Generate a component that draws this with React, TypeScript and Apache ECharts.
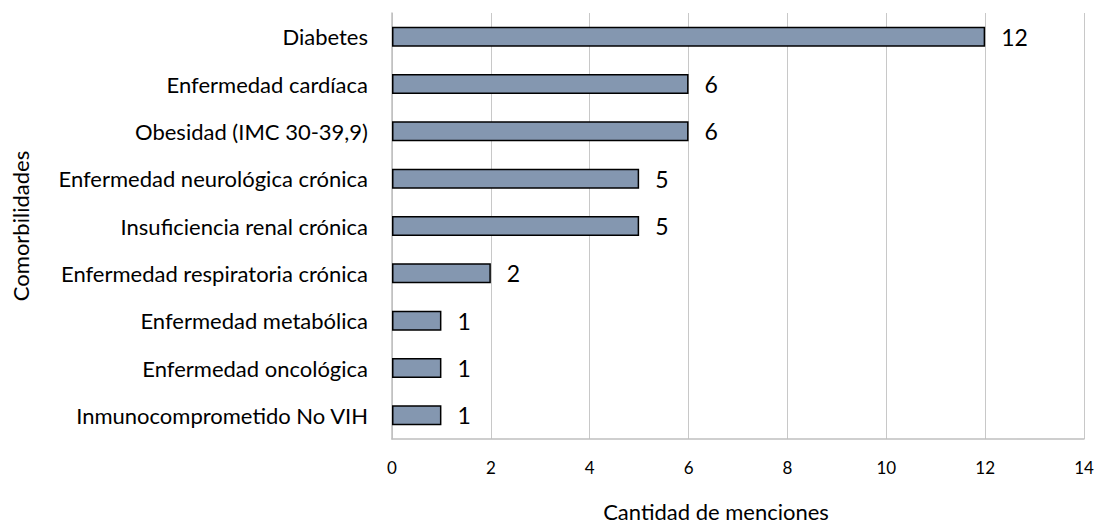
import React, { useEffect, useRef } from "react";
import * as echarts from "echarts";

const categories: string[] = [
  "Diabetes",
  "Enfermedad cardíaca",
  "Obesidad (IMC 30-39,9)",
  "Enfermedad neurológica crónica",
  "Insuficiencia renal crónica",
  "Enfermedad respiratoria crónica",
  "Enfermedad metabólica",
  "Enfermedad oncológica",
  "Inmunocomprometido No VIH",
];
const values: number[] = [12, 6, 6, 5, 5, 2, 1, 1, 1];
const xTitle = "Cantidad de menciones";
const yTitle = "Comorbilidades";

const FONT = "Lato, 'Open Sans', sans-serif";

export default function App() {
  const ref = useRef<HTMLDivElement>(null);
  useEffect(() => {
    if (!ref.current) return;
    const chart = echarts.init(ref.current, undefined, { renderer: "svg" });
    chart.setOption({
      animation: false,
      backgroundColor: "#ffffff",
      textStyle: { fontFamily: FONT },
      grid: { left: 392, right: 14, top: 13, bottom: 78, containLabel: false },
      xAxis: {
        type: "value",
        min: 0,
        max: 14,
        interval: 2,
        name: xTitle,
        nameLocation: "middle",
        nameGap: 61,
        nameTextStyle: { fontFamily: FONT, fontSize: 22, color: "#000", padding: [0, 44, 0, 0] },
        axisLine: { show: true, lineStyle: { color: "#BFBFBF", width: 1.5 } },
        axisTick: { show: false },
        axisLabel: { fontFamily: FONT, fontSize: 17, color: "#000", margin: 20 },
        splitLine: { show: true, lineStyle: { color: "#C8C8C8", width: 1 } },
      },
      yAxis: {
        type: "category",
        data: categories,
        inverse: true,
        name: yTitle,
        nameLocation: "middle",
        nameGap: 361,
        nameRotate: 90,
        nameTextStyle: { fontFamily: FONT, fontSize: 22, color: "#000" },
        axisLine: { show: true, lineStyle: { color: "#BFBFBF", width: 1.5 } },
        axisTick: { show: false },
        axisLabel: { fontFamily: FONT, fontSize: 22, color: "#000", margin: 24 },
        splitLine: { show: false },
      },
      series: [
        {
          type: "bar",
          data: values,
          barWidth: 20,
          itemStyle: { color: "#8497B0", borderColor: "#000", borderWidth: 1.5 },
          label: {
            show: true,
            position: "right",
            distance: 16,
            fontFamily: FONT,
            fontSize: 23,
            color: "#000",
          },
        },
      ],
    });
    return () => chart.dispose();
  }, []);
  return (
    <div
      ref={ref}
      style={{ position: "fixed", left: 0, top: 0, width: 1098, height: 527, background: "#fff" }}
    />
  );
}
